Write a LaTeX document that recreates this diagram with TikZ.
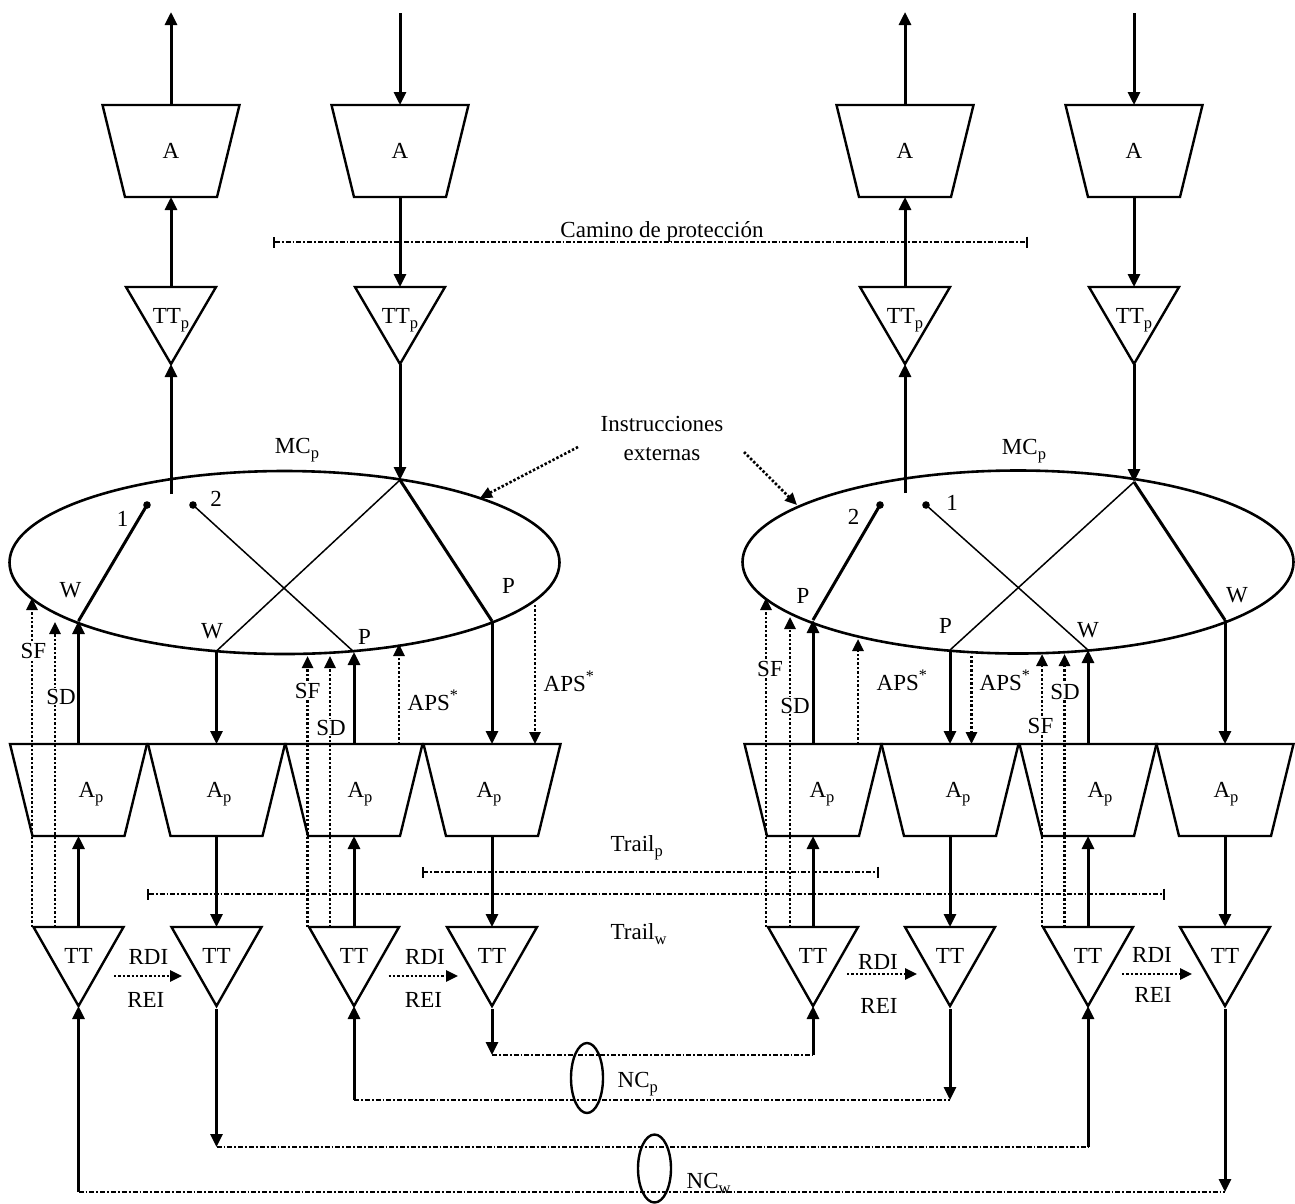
\documentclass[tikz,border=0pt]{standalone}
\usepackage{fontspec}
\setmainfont{Liberation Serif}
\usetikzlibrary{arrows.meta}
\tikzset{
 shp/.style={line width=2.4pt, line join=miter},
 tipa/.style={-{Triangle[length=13pt,width=12pt]}},
 thk/.style={line width=3pt},
 thn/.style={line width=1.5pt},
 sig/.style={thk, tipa},
 dots/.style={line width=2.6pt, dash pattern=on 2.4pt off 2pt},
 dsig/.style={dots, -{Triangle[length=12pt,width=11pt]}},
 dd/.style={line width=2.4pt, dash pattern=on 5pt off 2pt on 1.8pt off 2pt},
 lbl/.style={font=\fontsize{23}{27}\selectfont, inner sep=0.5pt},
 wl/.style={lbl, fill=white},
 barends/.style={{Bar[width=11pt,line width=2.4pt]}-{Bar[width=11pt,line width=2.4pt]}},
 ell/.style={line width=2.6pt},
}
\newcommand\mysub[1]{\raisebox{-5pt}{\fontsize{16.5}{16.5}\selectfont #1}}
\newcommand\mytrap[5]{%
  \draw[shp] ({#2-68.5},#3) -- ({#2+68.5},#3) -- ({#2+46},{#3+92}) -- ({#2-46},{#3+92}) -- cycle;
  \coordinate (#1-t) at (#2,#3);
  \coordinate (#1-b) at (#2,{#3+92});
  \node[lbl,anchor=base] (#1) at (#4,{#3+53}) {#5};
}
\newcommand\mytri[5]{%
  \draw[shp] ({#2-45},#3) -- ({#2+45},#3) -- (#2,{#3+#4}) -- cycle;
  \coordinate (#1-t) at (#2,#3);
  \coordinate (#1-b) at (#2,{#3+#4});
  \node[lbl,anchor=base] (#1) at (#2,{#3+36}) {#5};
}
\begin{document}
\begin{tikzpicture}[x=1pt,y=-1pt]
\useasboundingbox (0,0) rectangle (1295,1203);

% ---------------- top part
\mytrap{A1}{171}{105}{171}{A}
\mytrap{A2}{400}{105}{400}{A}
\mytrap{A3}{905}{105}{905}{A}
\mytrap{A4}{1134}{105}{1134}{A}
\mytri{P1}{171}{287}{77}{TT\mysub{p}}
\mytri{P2}{400}{287}{77}{TT\mysub{p}}
\mytri{P3}{905}{287}{77}{TT\mysub{p}}
\mytri{P4}{1134}{287}{77}{TT\mysub{p}}
\coordinate (o1) at (171,12);
\coordinate (i2) at (400,13);
\coordinate (o3) at (905,12);
\coordinate (i4) at (1134,13);
\draw[sig] (A1-t) -- (o1);
\draw[sig] (i2) -- (A2-t);
\draw[sig] (A3-t) -- (o3);
\draw[sig] (i4) -- (A4-t);
\draw[sig] (P1-t) -- (A1-b);
\draw[sig] (A2-b) -- (P2-t);
\draw[sig] (P3-t) -- (A3-b);
\draw[sig] (A4-b) -- (P4-t);

\coordinate (cam1) at (273,242);
\coordinate (cam2) at (1028,242);
\draw[dd,barends] (cam1) -- (cam2);
\node[lbl,anchor=base] (cam) at (662,237) {Camino de protección};

% ---------------- ellipses
\coordinate (E1) at (284.5,562.5);
\coordinate (E2) at (1018,562);
\draw[ell] (E1) ellipse [x radius=275pt, y radius=91.5pt];
\draw[ell] (E2) ellipse [x radius=275.5pt, y radius=91.5pt];
\node[lbl,anchor=base] (mc1) at (297,453) {MC\mysub{p}};
\node[lbl,anchor=base] (mc2) at (1024,454) {MC\mysub{p}};

% left ellipse inside
\coordinate (L-pin) at (171,494);
\coordinate (L-d1) at (147,505);
\coordinate (L-d2) at (193,505);
\coordinate (L-top) at (400,480);
\coordinate (L-W) at (78.5,621);
\coordinate (L-W2) at (216.5,651);
\coordinate (L-P2) at (354,652);
\coordinate (L-P) at (492,621);
\draw[sig] (L-pin) -- (P1-b);
\draw[sig] (P2-b) -- (L-top);
\fill (L-d1) circle [radius=3.8pt];
\fill (L-d2) circle [radius=3.8pt];
\draw[thk] (L-d1) -- (L-W);
\draw[thn] (L-d2) -- (L-P2);
\draw[thn] (L-top) -- (L-W2);
\draw[thk] (L-top) -- (L-P);
\node[lbl,anchor=base] (n1) at (122.5,526) {1};
\node[lbl,anchor=base] (n2) at (216,506) {2};
\node[lbl,anchor=base] (w1) at (70.5,597) {W};
\node[lbl,anchor=base] (w2) at (212,638) {W};
\node[lbl,anchor=base] (p2) at (364.5,644) {P};
\node[lbl,anchor=base] (p1) at (508.6,593) {P};

% right ellipse inside
\coordinate (R-pin) at (905,493);
\coordinate (R-d2) at (880,505);
\coordinate (R-d1) at (926,505);
\coordinate (R-top) at (1134,482);
\coordinate (R-W) at (813,620);
\coordinate (R-W2) at (950,650);
\coordinate (R-P2) at (1088,650);
\coordinate (R-P) at (1225,620);
\draw[sig] (R-pin) -- (P3-b);
\draw[sig] (P4-b) -- (R-top);
\fill (R-d1) circle [radius=3.8pt];
\fill (R-d2) circle [radius=3.8pt];
\draw[thk] (R-d2) -- (R-W);
\draw[thn] (R-d1) -- (R-P2);
\draw[thn] (R-top) -- (R-W2);
\draw[thk] (R-top) -- (R-P);
\node[lbl,anchor=base] (n2r) at (853.5,524) {2};
\node[lbl,anchor=base] (n1r) at (952,510) {1};
\node[lbl,anchor=base] (pr1) at (803,603) {P};
\node[lbl,anchor=base] (wr2) at (1088,637) {W};
\node[lbl,anchor=base] (pr2) at (945.6,633) {P};
\node[lbl,anchor=base] (wr1) at (1237,602) {W};

% external instructions
\node[lbl,anchor=base] (ins) at (662,431) {Instrucciones};
\node[lbl,anchor=base] (ext) at (662,460) {externas};
\coordinate (ia1) at (578,447);
\coordinate (ia2) at (480,498);
\coordinate (ib1) at (744,452);
\coordinate (ib2) at (797,505);
\draw[dsig] (ia1) -- (ia2);
\draw[dsig] (ib1) -- (ib2);

% ---------------- A_p row
\mytrap{Q1}{78.5}{744}{91}{A\mysub{p}}
\mytrap{Q2}{216.5}{744}{219}{A\mysub{p}}
\mytrap{Q3}{354}{744}{360}{A\mysub{p}}
\mytrap{Q4}{492}{744}{489}{A\mysub{p}}
\mytrap{Q5}{813}{744}{822}{A\mysub{p}}
\mytrap{Q6}{950}{744}{958}{A\mysub{p}}
\mytrap{Q7}{1088}{744}{1100}{A\mysub{p}}
\mytrap{Q8}{1225}{744}{1226}{A\mysub{p}}

% ---------------- TT row
\mytri{T1}{78.5}{927}{79}{TT}
\mytri{T2}{216.5}{927}{79}{TT}
\mytri{T3}{354}{927}{79}{TT}
\mytri{T4}{492}{927}{79}{TT}
\mytri{T5}{813}{927}{79}{TT}
\mytri{T6}{950}{927}{79}{TT}
\mytri{T7}{1088}{927}{79}{TT}
\mytri{T8}{1225}{927}{79}{TT}

% trail lines
\coordinate (tp1) at (421.6,872);
\coordinate (tp2) at (879,872);
\coordinate (tw1) at (147,894);
\coordinate (tw2) at (1165,894);
\draw[dd,barends] (tp1) -- (tp2);
\draw[dd,barends] (tw1) -- (tw2);
\node[lbl,anchor=base west] (trp) at (610,851) {Trail\mysub{p}};
\node[lbl,anchor=base west] (trw) at (610,939) {Trail\mysub{w}};

% thick signal arrows between ellipses, A_p and TT
\draw[sig] (Q1-t) -- (L-W);
\draw[sig] (L-W2) -- (Q2-t);
\draw[sig] (Q3-t) -- (L-P2);
\draw[sig] (L-P) -- (Q4-t);
\draw[sig] (Q5-t) -- (R-W);
\draw[sig] (R-W2) -- (Q6-t);
\draw[sig] (Q7-t) -- (R-P2);
\draw[sig] (R-P) -- (Q8-t);
\draw[sig] (T1-t) -- (Q1-b);
\draw[sig] (Q2-b) -- (T2-t);
\draw[sig] (T3-t) -- (Q3-b);
\draw[sig] (Q4-b) -- (T4-t);
\draw[sig] (T5-t) -- (Q5-b);
\draw[sig] (Q6-b) -- (T6-t);
\draw[sig] (T7-t) -- (Q7-b);
\draw[sig] (Q8-b) -- (T8-t);

% dotted SF / SD / APS
\coordinate (sf1a) at (32,927);   \coordinate (sf1b) at (32,598);
\coordinate (sd1a) at (55,927);   \coordinate (sd1b) at (55,622);
\coordinate (sf2a) at (307.6,927);\coordinate (sf2b) at (307.6,656);
\coordinate (sd2a) at (330,927);  \coordinate (sd2b) at (330,656);
\coordinate (ap1a) at (399,744);  \coordinate (ap1b) at (399,644);
\coordinate (ap2a) at (535,605);  \coordinate (ap2b) at (535,744);
\coordinate (sf3a) at (766,927);  \coordinate (sf3b) at (766,598);
\coordinate (sd3a) at (790,927);  \coordinate (sd3b) at (790,617);
\coordinate (ap3a) at (858,744);  \coordinate (ap3b) at (858,639);
\coordinate (ap4a) at (971.5,656);\coordinate (ap4b) at (971.5,744);
\coordinate (sf4a) at (1042,927); \coordinate (sf4b) at (1042,654);
\coordinate (sd4a) at (1064.5,927);\coordinate (sd4b) at (1064.5,654);
\foreach \s in {sf1,sd1,sf2,sd2,ap1,ap2,sf3,sd3,ap3,ap4,sf4,sd4}
  \draw[dsig] (\s a) -- (\s b);

\node[wl,anchor=base] (lsf1) at (33.5,658) {SF};
\node[wl,anchor=base] (lsd1) at (61,704) {SD};
\node[wl,anchor=base] (lsf2) at (307.7,698) {SF};
\node[wl,anchor=base] (lsd2) at (331,735) {SD};
\node[lbl,anchor=base west] (laps1) at (407,710) {APS\textsuperscript{*}};
\node[lbl,anchor=base west] (laps2) at (543,691) {APS\textsuperscript{*}};
\node[wl,anchor=base] (lsf3) at (770,676) {SF};
\node[wl,anchor=base] (lsd3) at (795,713) {SD};
\node[lbl,anchor=base west] (laps3) at (876,690) {APS\textsuperscript{*}};
\node[lbl,anchor=base west] (laps4) at (979,690) {APS\textsuperscript{*}};
\node[wl,anchor=base] (lsf4) at (1040.5,733) {SF};
\node[wl,anchor=base] (lsd4) at (1065,699) {SD};

% RDI / REI
\coordinate (r1a) at (114,976);  \coordinate (r1b) at (182,976);
\coordinate (r2a) at (388.5,976);\coordinate (r2b) at (458,976);
\coordinate (r3a) at (847,974);  \coordinate (r3b) at (917,974);
\coordinate (r4a) at (1122,974); \coordinate (r4b) at (1192,974);
\foreach \s in {r1,r2,r3,r4}
  \draw[dsig] (\s a) -- (\s b);
\node[lbl,anchor=base] (rdi1) at (148.4,964) {RDI};
\node[lbl,anchor=base] (rei1) at (145.8,1007) {REI};
\node[lbl,anchor=base] (rdi2) at (425,964) {RDI};
\node[lbl,anchor=base] (rei2) at (423.5,1007) {REI};
\node[lbl,anchor=base] (rdi3) at (878,969) {RDI};
\node[lbl,anchor=base] (rei3) at (879,1013) {REI};
\node[lbl,anchor=base] (rdi4) at (1152,962) {RDI};
\node[lbl,anchor=base] (rei4) at (1153,1002) {REI};

% ---------------- bottom network connections
\coordinate (b1) at (78.5,1192);  \coordinate (b8) at (1225,1192);
\coordinate (b2) at (216.5,1147); \coordinate (b7) at (1088,1147);
\coordinate (b3) at (354,1100);   \coordinate (b6) at (950,1100);
\coordinate (b4) at (492,1055);   \coordinate (b5) at (813,1055);
\draw[dd] (b1) -- (b8);
\draw[dd] (b2) -- (b7);
\draw[dd] (b3) -- (b6);
\draw[dd] (b4) -- (b5);
\draw[sig] (b1) -- (T1-b);
\draw[sig,shorten <=3pt] (T8-b) -- (b8);
\draw[sig,shorten <=3pt] (T2-b) -- (b2);
\draw[sig] (b7) -- (T7-b);
\draw[sig] (b3) -- (T3-b);
\draw[sig,shorten <=3pt] (T6-b) -- (b6);
\draw[sig,shorten <=3pt] (T4-b) -- (b4);
\draw[sig] (b5) -- (T5-b);

\coordinate (ncp) at (587,1078);
\coordinate (ncw) at (654.5,1168.5);
\draw[line width=2.4pt] (ncp) ellipse [x radius=16pt, y radius=35pt];
\draw[line width=2.4pt] (ncw) ellipse [x radius=16.5pt, y radius=34pt];
\node[lbl,anchor=base west] (ncpl) at (617,1087) {NC\mysub{p}};
\node[lbl,anchor=base west] (ncwl) at (686,1188) {NC\mysub{w}};
\end{tikzpicture}
\end{document}
